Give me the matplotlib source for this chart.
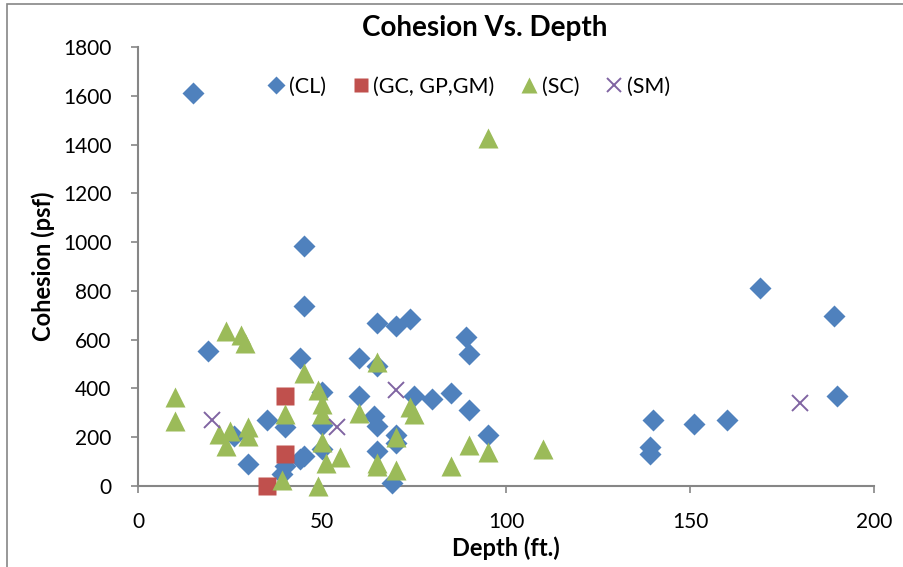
import matplotlib.pyplot as plt
from matplotlib.patches import Rectangle

# %% Data (depth ft, cohesion psf)
cl_depth = [15, 19, 26, 30, 35, 39, 40, 40, 44, 44, 45, 45, 45, 50, 50, 50,
            60, 60, 64, 65, 65, 65, 65, 69, 70, 70, 70, 74, 75, 80, 85, 89,
            90, 90, 95, 139, 139, 140, 151, 160, 169, 189, 190]
cl_cohesion = [1610, 555, 205, 90, 270, 50, 80, 240, 525, 110, 125, 740, 985,
               385, 250, 150, 525, 370, 285, 670, 490, 245, 145, 12, 655, 210,
               175, 685, 370, 355, 380, 610, 540, 312, 210, 130, 160, 270,
               255, 270, 810, 695, 370]

gc_depth = [40, 40, 35]
gc_cohesion = [370, 130, 0]

sc_depth = [10, 10, 22, 25, 24, 24, 28, 29, 30, 30, 39, 40, 45, 49, 50, 50,
            50, 51, 49, 55, 60, 65, 65, 65, 70, 70, 74, 75, 85, 90, 95, 95,
            110]
sc_cohesion = [365, 265, 215, 225, 165, 635, 620, 585, 240, 205, 25, 295, 465,
               395, 335, 295, 180, 95, 0, 120, 300, 510, 95, 80, 200, 65, 325,
               295, 80, 170, 140, 1425, 150]

sm_depth = [20, 54, 70, 180]
sm_cohesion = [270, 240, 395, 340]

# %% Style
AXIS_COLOR = "#868686"
FONT = "Lato"

plt.rcParams.update({
    "font.family": FONT,
    "font.size": 15,
    "axes.edgecolor": AXIS_COLOR,
    "xtick.color": AXIS_COLOR,
    "ytick.color": AXIS_COLOR,
    "xtick.labelcolor": "black",
    "ytick.labelcolor": "black",
    "axes.spines.right": False,
    "axes.spines.top": False,
})

fig = plt.figure(figsize=(9.04, 5.67), dpi=100)
ax = fig.add_axes([138 / 904, 1 - 486 / 567, 736 / 904, 439 / 567])

ax.plot(cl_depth, cl_cohesion, "D", color="#4F81BD", ms=11, mec="none",
        label="(CL)", clip_on=False, zorder=3)
ax.plot(gc_depth, gc_cohesion, "s", color="#C0504D", ms=13, mec="none",
        label="(GC, GP,GM)", clip_on=False, zorder=4)
ax.plot(sc_depth, sc_cohesion, "^", color="#9BBB59", ms=14, mec="none",
        label="(SC)", clip_on=False, zorder=5)
ax.plot(sm_depth, sm_cohesion, "x", color="#8064A2", ms=12, mew=1.4,
        label="(SM)", clip_on=False, zorder=6)

ax.set_xlim(0, 200)
ax.set_ylim(0, 1800)
ax.set_xticks(range(0, 201, 50))
ax.set_yticks(range(0, 1801, 200))
ax.tick_params(direction="out", length=5, width=1.2, labelsize=15)
ax.tick_params(axis="y", pad=14)
ax.tick_params(axis="x", pad=14)
for sp in ax.spines.values():
    sp.set_linewidth(1.5)

ax.set_xlabel("Depth (ft.)", fontsize=17, fontweight="bold", labelpad=3)
ax.set_ylabel("Cohesion (psf)", fontsize=17, fontweight="bold", labelpad=6)
fig.text(485 / 904, 1 - 28 / 567, "Cohesion Vs. Depth", fontsize=20,
         fontweight="bold", ha="center", va="center")

ax.legend(loc="center", bbox_to_anchor=(0.448, 0.909), ncol=4, frameon=False,
          handletextpad=0.1, columnspacing=1.1, handlelength=1.0,
          markerscale=0.8, fontsize=15.5)

# chart border (cropped on the right and bottom)
fig.patches.append(Rectangle((7 / 904, -0.1), 1.2, 1.1 - 4 / 567,
                             transform=fig.transFigure, fill=False,
                             edgecolor=AXIS_COLOR, linewidth=1.2))

fig.savefig("out.png", dpi=100)
